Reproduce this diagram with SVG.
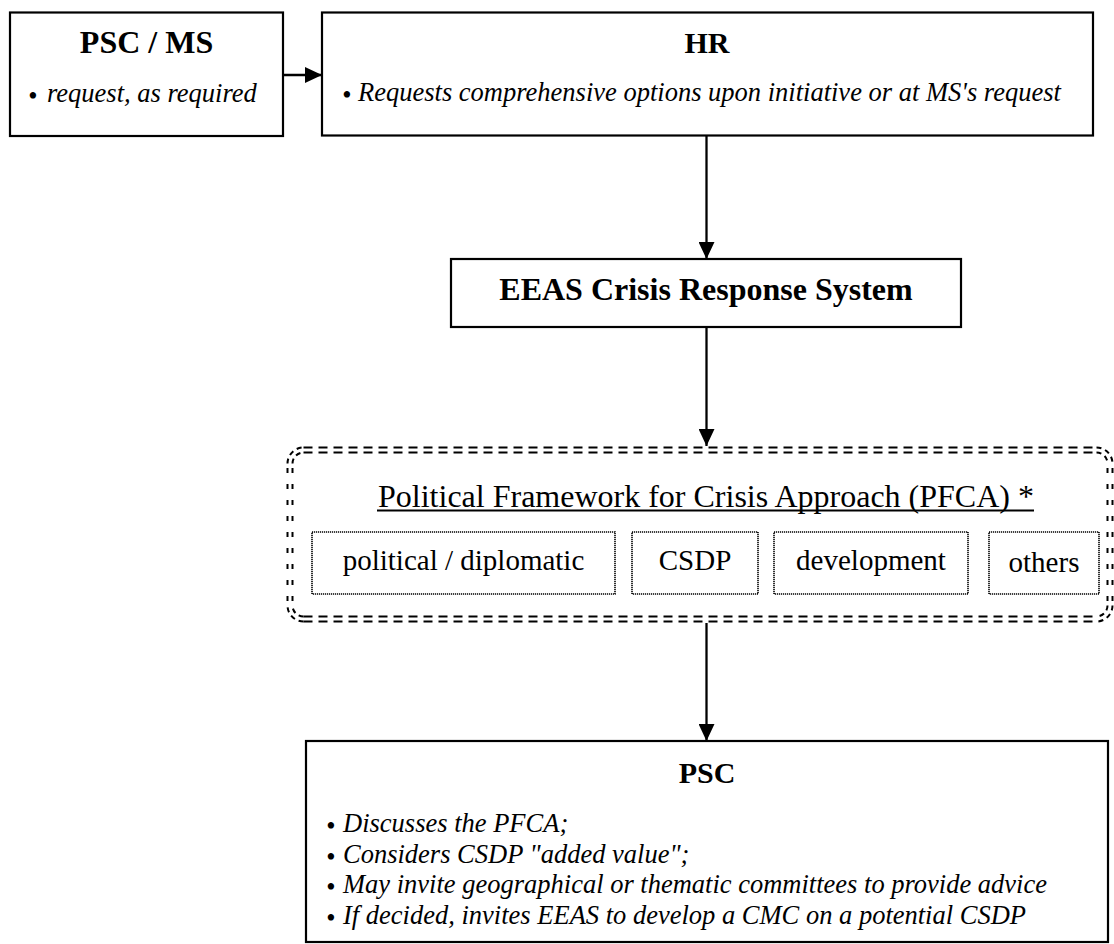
<svg xmlns="http://www.w3.org/2000/svg" width="1114" height="944" viewBox="0 0 1114 944">
<style>
.box{fill:#fff;stroke:#000;stroke-width:2.2}
.sub{fill:#fff;stroke:#000;stroke-width:1.6;stroke-dasharray:1.2 0.8}
.t{font-family:"Liberation Serif","Times New Roman",serif;fill:#000}
.h{font-size:32px;font-weight:bold;text-anchor:middle}
.i{font-size:26.5px;font-style:italic}
.b{font-size:26.5px;text-anchor:middle}
.r{font-size:29px;text-anchor:middle}
.conn{stroke:#000;stroke-width:2.3;fill:none}
.dh{stroke:#000;stroke-width:2;fill:none;stroke-dasharray:9 6}
.dv{stroke:#000;stroke-width:2;fill:none;stroke-dasharray:5 11}
.dc{stroke:#000;stroke-width:2;fill:none;stroke-dasharray:5 4}
</style>
<defs>
<marker id="arr" markerUnits="userSpaceOnUse" markerWidth="17" markerHeight="16" refX="17" refY="8" orient="auto">
<path d="M0,0 L17,8 L0,16 Z" fill="#000"/>
</marker>
</defs>

<g id="connectors">
<line class="conn" x1="284" y1="75" x2="322" y2="75" marker-end="url(#arr)"/>
<line class="conn" x1="706.5" y1="136" x2="706.5" y2="259" marker-end="url(#arr)"/>
<line class="conn" x1="706.5" y1="328" x2="706.5" y2="446" marker-end="url(#arr)"/>
<line class="conn" x1="706.5" y1="623" x2="706.5" y2="741" marker-end="url(#arr)"/>
</g>

<g id="psc-ms">
<rect class="box" x="10" y="12.5" width="273" height="123.5"/>
<text class="t h" x="146.5" y="53">PSC / MS</text>
<text class="t b" x="33" y="105">•</text>
<text class="t i" x="47" y="102">request, as required</text>
</g>

<g id="hr">
<rect class="box" x="322" y="12.5" width="771" height="123"/>
<text class="t h" x="707" y="53" style="font-size:30px">HR</text>
<text class="t b" x="347" y="104">•</text>
<text class="t i" x="358" y="101">Requests comprehensive options upon initiative or at MS's request</text>
</g>

<g id="eeas">
<rect class="box" x="451" y="259" width="510" height="68"/>
<text class="t h" x="706" y="300">EEAS Crisis Response System</text>
</g>

<g id="pfca">
<!-- outer dashed border -->
<line class="dh" x1="303.5" y1="447.5" x2="1096.5" y2="447.5"/>
<line class="dh" x1="303.5" y1="621.5" x2="1096.5" y2="621.5"/>
<line class="dv" x1="287.5" y1="468" x2="287.5" y2="605.5"/>
<line class="dv" x1="1112.5" y1="468" x2="1112.5" y2="605.5"/>
<path class="dc" d="M287.5,463.5 A16,16 0 0 1 303.5,447.5"/>
<path class="dc" d="M1096.5,447.5 A16,16 0 0 1 1112.5,463.5"/>
<path class="dc" d="M1112.5,605.5 A16,16 0 0 1 1096.5,621.5"/>
<path class="dc" d="M303.5,621.5 A16,16 0 0 1 287.5,605.5"/>
<!-- inner dashed border -->
<line class="dh" x1="303.5" y1="452.5" x2="1096.5" y2="452.5"/>
<line class="dh" x1="303.5" y1="616.5" x2="1096.5" y2="616.5"/>
<line class="dv" x1="292.5" y1="468" x2="292.5" y2="605.5"/>
<line class="dv" x1="1107.5" y1="468" x2="1107.5" y2="605.5"/>
<path class="dc" d="M292.5,463.5 A11,11 0 0 1 303.5,452.5"/>
<path class="dc" d="M1096.5,452.5 A11,11 0 0 1 1107.5,463.5"/>
<path class="dc" d="M1107.5,605.5 A11,11 0 0 1 1096.5,616.5"/>
<path class="dc" d="M303.5,616.5 A11,11 0 0 1 292.5,605.5"/>
<text class="t" x="706" y="507" style="font-size:32px;text-anchor:middle">Political Framework for Crisis Approach (PFCA) *</text>
<line x1="377" y1="510.5" x2="1034" y2="510.5" stroke="#000" stroke-width="2"/>
</g>

<g id="political-diplomatic">
<rect class="sub" x="312" y="532" width="303" height="62"/>
<text class="t r" x="463.5" y="570">political / diplomatic</text>
</g>
<g id="csdp">
<rect class="sub" x="632" y="532" width="126" height="62"/>
<text class="t r" x="695" y="570">CSDP</text>
</g>
<g id="development">
<rect class="sub" x="774" y="532" width="194" height="62"/>
<text class="t r" x="871" y="570">development</text>
</g>
<g id="others">
<rect class="sub" x="989" y="532" width="110" height="62"/>
<text class="t r" x="1044" y="572">others</text>
</g>

<g id="psc">
<rect class="box" x="306" y="741" width="802" height="201"/>
<text class="t h" x="707" y="783" style="font-size:30px">PSC</text>
<text class="t b" x="331" y="835">•</text>
<text class="t i" x="343" y="832">Discusses the PFCA;</text>
<text class="t b" x="331" y="865.5">•</text>
<text class="t i" x="343" y="862.5">Considers CSDP "added value";</text>
<text class="t b" x="331" y="896">•</text>
<text class="t i" x="343" y="893">May invite geographical or thematic committees to provide advice</text>
<text class="t b" x="331" y="926.5">•</text>
<text class="t i" x="343" y="923.5">If decided, invites EEAS to develop a CMC on a potential CSDP</text>
</g>
</svg>
